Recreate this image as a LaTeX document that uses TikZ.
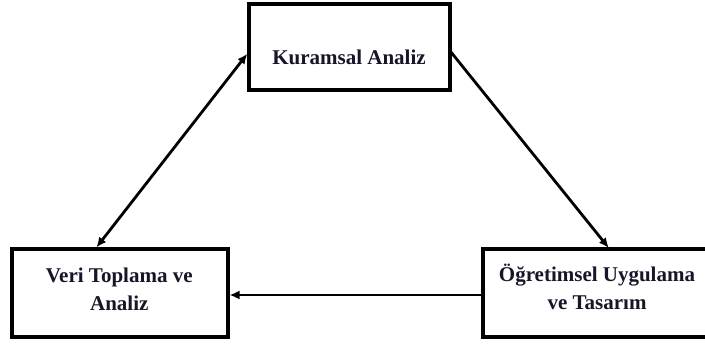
\documentclass[tikz,border=0pt]{standalone}
\usepackage{fontspec}
\setmainfont{Liberation Serif}
\usetikzlibrary{arrows.meta,calc}
\definecolor{txt}{RGB}{22,22,40}
\begin{document}
\begin{tikzpicture}[x=1pt,y=-1pt,
  boxstyle/.style={draw=black,line width=4pt,inner sep=0pt,outer sep=0pt,fill=white},
  lbl/.style={text=txt,font=\fontsize{21}{28}\selectfont\bfseries,align=center,inner sep=0pt},
  conn/.style={line width=2.8pt,draw=black,shorten >=2pt,shorten <=2pt},
  tip/.style={Latex[length=10pt,width=9pt]}]
\useasboundingbox (0,0) rectangle (705,347);
\clip (0,0) rectangle (705,347);
\node[boxstyle,minimum width=201pt,minimum height=86.5pt] (T) at (349,47.25) {};
\node[boxstyle,minimum width=215.8pt,minimum height=88pt] (L) at (119.6,293) {};
\node[boxstyle,minimum width=230pt,minimum height=87.5pt] (R) at (597.5,293.25) {};
\node[lbl,anchor=base] (tl) at (349,65) {Kuramsal Analiz};
\node[lbl,anchor=base] (ll1) at (119.3,282.3) {Veri Toplama ve};
\node[lbl,anchor=base] (ll2) at (119.3,310.5) {Analiz};
\node[lbl,anchor=base] (rl1) at (597,281.7) {Öğretimsel Uygulama};
\node[lbl,anchor=base] (rl2) at (597,310) {ve Tasarım};
\draw[conn,{Latex[length=10pt,width=9pt]}-{Latex[length=10pt,width=9pt]}] ($(L.north west)+(83.5,0)$) -- ($(T.west)+(0,5)$);
\draw[conn,-{Latex[length=10pt,width=9pt]}] ($(T.east)+(0,3)$) -- ($(R.north west)+(127.5,0)$);
\draw[conn,-{Latex[length=10pt,width=9pt]}] ($(R.west)+(0,1.75)$) -- ($(L.east)+(0,2)$);
\end{tikzpicture}
\end{document}
